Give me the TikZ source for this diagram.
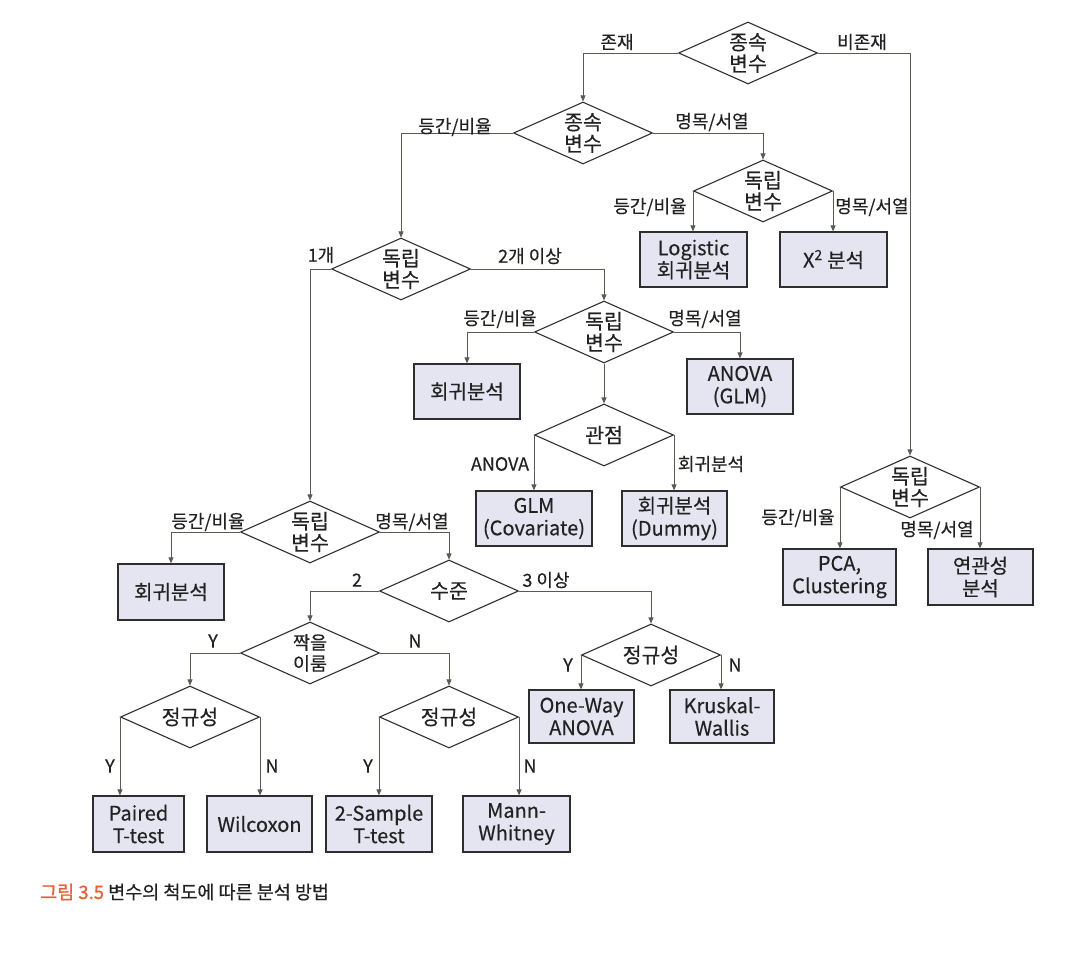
\documentclass[tikz,border=0pt]{standalone}
\usepackage{fontspec}
\setmainfont{Noto Sans CJK KR}[FakeBold=0.35]
\newfontfamily\capbold{Noto Sans CJK KR}[FakeBold=1.1]
\usetikzlibrary{shapes.geometric,arrows.meta}
\definecolor{boxfill}{HTML}{E4E5F1}
\definecolor{boxedge}{HTML}{2E2E2E}
\definecolor{diaedge}{HTML}{2E2E2E}
\definecolor{connc}{HTML}{5A5A52}
\definecolor{txt}{HTML}{222222}
\definecolor{capor}{HTML}{E2643A}
\tikzset{
  dia/.style={diamond, draw=diaedge, line width=1.1pt, fill=white, inner sep=0pt,
    shape aspect=2.2, minimum width=139pt, minimum height=62pt, align=center,
    font=\fontsize{20.5}{21.5}\selectfont, text=txt},
  resbox/.style={rectangle, draw=boxedge, line width=1.2pt, fill=boxfill, inner sep=0pt,
    minimum height=55pt, align=center, font=\fontsize{20}{22.5}\selectfont, text=txt},
  conn/.style={draw=connc, line width=0.8pt, -{Triangle[length=6pt,width=5pt]}},
  lab/.style={font=\fontsize{18}{19}\selectfont, text=txt, inner sep=0pt},
}
\begin{document}
\begin{tikzpicture}[x=1pt,y=-1pt]
\useasboundingbox[fill=white] (0,0) rectangle (1070,968);

% diamonds
\node[dia] (D1) at (748,53) {종속\\변수};
\node[dia] (D2) at (583,133) {종속\\변수};
\node[dia] (D3) at (763,191) {독립\\변수};
\node[dia] (D4) at (401,269) {독립\\변수};
\node[dia] (D5) at (604,332) {독립\\변수};
\node[dia] (D7) at (604,435) {관점};
\node[dia] (D6) at (310,532) {독립\\변수};
\node[dia] (D8) at (449,591) {수준};
\node[dia, font=\fontsize{18.5}{21}\selectfont] (D9) at (310,653) {짝을\\이룸};
\node[dia] (D10) at (651,655) {정규성};
\node[dia] (D11) at (190,717) {정규성};
\node[dia] (D12) at (449,717) {정규성};
\node[dia] (D13) at (910,487) {독립\\변수};

% result boxes
\node[resbox, minimum width=107pt] (logistic) at (693.5,259.5) {Logistic\\회귀분석};
\node[resbox, minimum width=107pt] (chi) at (833.5,259.5) {X\textsuperscript{2} 분석};
\node[resbox, minimum width=106pt] (reg1) at (467,391.5) {회귀분석};
\node[resbox, minimum width=106pt] (anova) at (740,386.5) {ANOVA\\(GLM)};
\node[resbox, minimum width=116pt] (glm) at (534,518.5) {GLM\\(Covariate)};
\node[resbox, minimum width=105pt] (dummy) at (674.5,518.5) {회귀분석\\(Dummy)};
\node[resbox, minimum width=106pt, minimum height=56pt] (reg2) at (171,592) {회귀분석};
\node[resbox, minimum width=113pt, minimum height=56pt] (pca) at (839.5,577) {PCA,\\Clustering};
\node[resbox, minimum width=105pt, minimum height=56pt] (assoc) at (980.5,577) {연관성\\분석};
\node[resbox, minimum width=105pt, minimum height=53pt] (oneway) at (581.5,716.5) {One-Way\\ANOVA};
\node[resbox, minimum width=104pt, minimum height=53pt] (kruskal) at (722,716.5) {Kruskal-\\Wallis};
\node[resbox, minimum width=91pt, minimum height=56pt] (paired) at (138.5,824) {Paired\\T-test};
\node[resbox, minimum width=105pt, minimum height=56pt] (wilcoxon) at (259.5,824) {Wilcoxon};
\node[resbox, minimum width=106pt, minimum height=56pt] (sample2) at (379,824) {2-Sample\\T-test};
\node[resbox, minimum width=107pt, minimum height=56pt] (mann) at (516.5,824) {Mann-\\Whitney};

% connectors
\draw[conn] (D1.west) -| (D2.north);
\draw[conn] (D1.east) -| (D13.north);
\draw[conn] (D2.west) -| (D4.north);
\draw[conn] (D2.east) -| (D3.north);
\draw[conn] (D3.west) -- (D3.west |- logistic.north);
\draw[conn] (D3.east) -- (D3.east |- chi.north);
\draw[conn] (D4.west) -| (D6.north);
\draw[conn] (D4.east) -| (D5.north);
\draw[conn] (D5.west) -| (reg1.north);
\draw[conn] (D5.east) -| (anova.north);
\draw[conn] (D5.south) -- (D7.north);
\draw[conn] (D7.west) -- (D7.west |- glm.north);
\draw[conn] (D7.east) -- (D7.east |- dummy.north);
\draw[conn] (D6.west) -| (reg2.north);
\draw[conn] (D6.east) -| (D8.north);
\draw[conn] (D8.west) -| (D9.north);
\draw[conn] (D8.east) -| (D10.north);
\draw[conn] (D10.west) -- (D10.west |- oneway.north);
\draw[conn] (D10.east) -- (D10.east |- kruskal.north);
\draw[conn] (D9.west) -| (D11.north);
\draw[conn] (D9.east) -| (D12.north);
\draw[conn] (D11.west) -- (D11.west |- paired.north);
\draw[conn] (D11.east) -- (D11.east |- wilcoxon.north);
\draw[conn] (D12.west) -- (D12.west |- sample2.north);
\draw[conn] (D12.east) -- (D12.east |- mann.north);
\draw[conn] (D13.west) -- (D13.west |- pca.north);
\draw[conn] (D13.east) -- (D13.east |- assoc.north);

% labels
\node[lab] (l1) at (617,42) {존재};
\node[lab] (l2) at (862,42) {비존재};
\node[lab] (l3) at (455,127) {등간/비율};
\node[lab] (l4) at (712,122) {명목/서열};
\node[lab] (l5) at (650,207) {등간/비율};
\node[lab] (l6) at (872,207) {명목/서열};
\node[lab] (l7) at (321,255) {1개};
\node[lab] (l8) at (530,256) {2개 이상};
\node[lab] (l9) at (500,319) {등간/비율};
\node[lab] (l10) at (705,319) {명목/서열};
\node[lab] (l11) at (500,464) {ANOVA};
\node[lab] (l12) at (711,464) {회귀분석};
\node[lab] (l13) at (208,522) {등간/비율};
\node[lab] (l14) at (412,522) {명목/서열};
\node[lab] (l15) at (357,580) {2};
\node[lab] (l16) at (546,580) {3 이상};
\node[lab] (l17) at (213,641) {Y};
\node[lab] (l18) at (415,641) {N};
\node[lab] (l19) at (568,665) {Y};
\node[lab] (l20) at (735,665) {N};
\node[lab] (l21) at (110,766) {Y};
\node[lab] (l22) at (272,766) {N};
\node[lab] (l23) at (368,766) {Y};
\node[lab] (l24) at (530,766) {N};
\node[lab] (l25) at (798,518) {등간/비율};
\node[lab] (l26) at (937,530) {명목/서열};

% caption
\node[anchor=west, inner sep=0pt, font=\fontsize{18.5}{20}\selectfont, text=txt] (cap) at (40,892)
  {{\capbold\color{capor}그림 3.5} 변수의 척도에 따른 분석 방법};
\end{tikzpicture}
\end{document}
